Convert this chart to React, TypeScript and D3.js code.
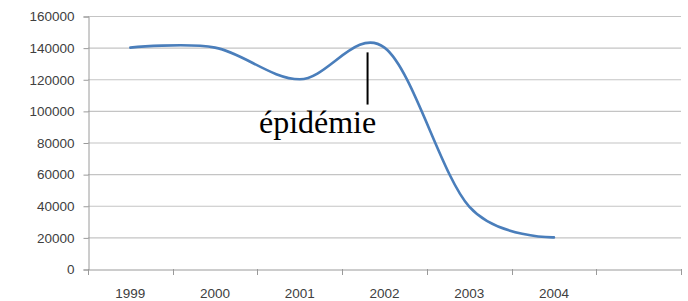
import * as React from 'react';
import * as d3 from 'd3';

const years = ['1999', '2000', '2001', '2002', '2003', '2004', ''];
const values = [140000, 140000, 120000, 140000, 39500, 20000];
const yTicks = [0, 20000, 40000, 60000, 80000, 100000, 120000, 140000, 160000];

// annotation: position as fractional category index, heights in data units
const noteLabel = 'épidémie';
const noteAt = 2.8;
const noteTextAt = 2.21;
const noteRange = [104000, 137000];
const noteTextValue = 86000;

const width = 688;
const height = 301;

export default function App() {
  const svgRef = React.useRef<SVGSVGElement>(null);

  React.useEffect(() => {
    if (!svgRef.current) return;
    const svg = d3.select(svgRef.current);
    svg.selectAll('*').remove();

    const x = d3.scaleBand().domain(years.map((d, i) => String(i))).range([88, 681]).padding(0);
    const y = d3.scaleLinear().domain([0, 160000]).range([269, 16]);
    const bw = x.bandwidth();
    const cx = (i: number) => 88 + bw * (i + 0.5);

    // gridlines
    svg
      .append('g')
      .selectAll('line')
      .data(yTicks.filter((d) => d > 0))
      .enter()
      .append('line')
      .attr('x1', 88)
      .attr('x2', 681)
      .attr('y1', (d) => y(d) + 0.5)
      .attr('y2', (d) => y(d) + 0.5)
      .attr('stroke', '#c4c4c4')
      .attr('stroke-width', 1.2);

    const yAxis = d3
      .axisLeft(y)
      .tickValues(yTicks)
      .tickSize(5)
      .tickPadding(9)
      .tickFormat((d) => String(d));
    const yg = svg.append('g').attr('transform', 'translate(88.5,0.5)').call(yAxis);
    yg.select('.domain').attr('stroke', '#9a9a9a');
    yg.selectAll('.tick line').attr('stroke', '#9a9a9a');
    yg.selectAll('.tick text')
      .attr('fill', '#404040')
      .style('font-family', '"Liberation Sans", Arial, sans-serif')
      .style('font-size', '13.5px');

    const xAxis = d3
      .axisBottom(x)
      .tickSize(0)
      .tickPadding(19)
      .tickFormat((d) => years[Number(d)]);
    const xg = svg.append('g').attr('transform', 'translate(0,269.5)').call(xAxis);
    xg.select('.domain').attr('stroke', '#9a9a9a');
    xg.selectAll('.tick text')
      .attr('fill', '#404040')
      .style('font-family', '"Liberation Sans", Arial, sans-serif')
      .style('font-size', '13.5px');

    // category boundary ticks
    svg
      .append('g')
      .selectAll('line')
      .data(d3.range(years.length + 1))
      .enter()
      .append('line')
      .attr('x1', (i) => Math.round(88 + bw * i) + 0.5)
      .attr('x2', (i) => Math.round(88 + bw * i) + 0.5)
      .attr('y1', 269)
      .attr('y2', 275)
      .attr('stroke', '#9a9a9a');

    const line = d3
      .line<number>()
      .x((d, i) => cx(i))
      .y((d) => y(d))
      .curve(d3.curveCardinal.tension(0));

    svg
      .append('path')
      .datum(values)
      .attr('d', line)
      .attr('fill', 'none')
      .attr('stroke', '#4a7ebb')
      .attr('stroke-width', 2.6)
      .attr('stroke-linecap', 'round');

    // annotation
    svg
      .append('line')
      .attr('x1', cx(noteAt))
      .attr('x2', cx(noteAt))
      .attr('y1', y(noteRange[1]))
      .attr('y2', y(noteRange[0]))
      .attr('stroke', '#000')
      .attr('stroke-width', 2);

    svg
      .append('text')
      .attr('x', cx(noteTextAt))
      .attr('y', y(noteTextValue))
      .attr('text-anchor', 'middle')
      .style('font-family', '"Liberation Serif", "Times New Roman", serif')
      .style('font-size', '32px')
      .attr('fill', '#000')
      .text(noteLabel);
  }, []);

  return (
    <svg
      ref={svgRef}
      width={width}
      height={height}
      style={{ position: 'absolute', left: 0, top: 0, background: '#fff' }}
    />
  );
}
